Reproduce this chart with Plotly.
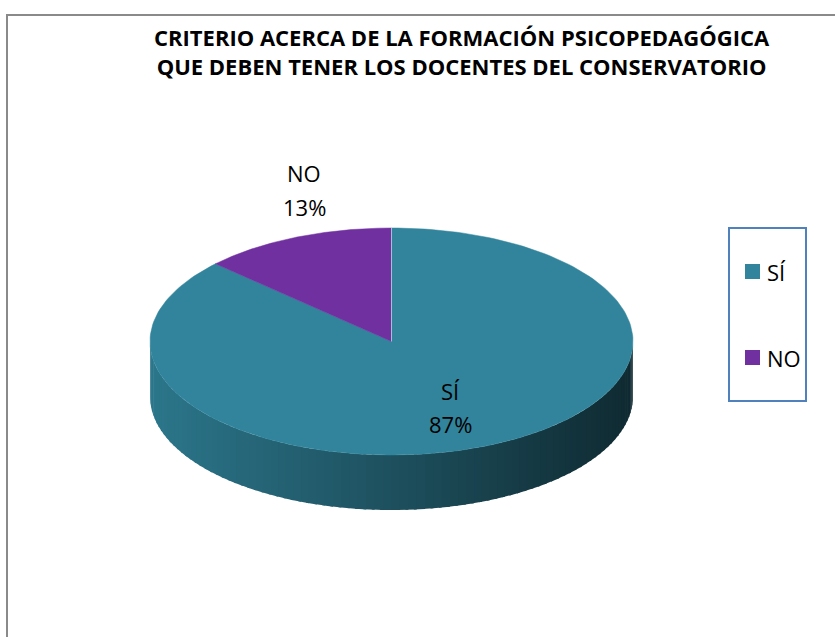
import numpy as np
import plotly.graph_objects as go

# ---- data ----
labels = ["SÍ", "NO"]
values = [87, 13]
colors = ["#31849B", "#7030A0"]
title_lines = ["CRITERIO ACERCA DE LA FORMACIÓN PSICOPEDAGÓGICA",
               "QUE DEBEN TENER LOS DOCENTES DEL CONSERVATORIO"]

# ---- style / geometry ----
W, H = 835, 637
CX, CY, RX, RY, DEPTH = 391.5, 341.5, 241.5, 113.5, 55
FONT = "Open Sans"
label_pos = {"SÍ": (450, 391, 424), "NO": (304, 173, 207)}


def hex2rgb(h):
    h = h.lstrip("#")
    return tuple(int(h[i:i + 2], 16) for i in (0, 2, 4))


def pt(t, dy=0.0):
    return CX + RX * np.sin(t), CY - RY * np.cos(t) + dy


total = float(sum(values))
fracs = [v / total for v in values]
bounds = []
acc = 0.0
for f in fracs:
    bounds.append((acc * 2 * np.pi, (acc + f) * 2 * np.pi))
    acc += f

fig = go.Figure()

# side wall (visible front half: t from pi/2 to 3pi/2)
N = 90
edges = np.linspace(np.pi / 2, 3 * np.pi / 2, N + 1)
for i in range(N):
    a0, a1 = edges[i], edges[i + 1]
    tm = 0.5 * (a0 + a1)
    base = colors[0]
    for (s0, s1), c in zip(bounds, colors):
        if s0 <= tm < s1:
            base = c
    xm, _ = pt(tm)
    u = (xm - (CX - RX)) / (2 * RX)
    fac = 0.9 - 0.58 * u
    r, g, b = hex2rgb(base)
    col = f"rgb({int(r * fac)},{int(g * fac)},{int(b * fac)})"
    ts = np.linspace(a0, a1 + (0.012 if i < N - 1 else 0), 6)
    xs_top, ys_top = pt(ts)
    xs_bot, ys_bot = pt(ts[::-1], DEPTH)
    xs = np.concatenate([xs_top, xs_bot, xs_top[:1]])
    ys = np.concatenate([ys_top, ys_bot, ys_top[:1]])
    fig.add_trace(go.Scatter(x=xs, y=ys, mode="lines", fill="toself",
                             fillcolor=col, line=dict(color=col, width=0),
                             hoverinfo="skip", showlegend=False))

# top face slices
for (s0, s1), c, lab in zip(bounds, colors, labels):
    ts = np.linspace(s0, s1, 200)
    xs, ys = pt(ts)
    xs = np.concatenate([[CX], xs, [CX]])
    ys = np.concatenate([[CY], ys, [CY]])
    fig.add_trace(go.Scatter(x=xs, y=ys, mode="lines", fill="toself",
                             fillcolor=c, line=dict(color=c, width=0.5),
                             hoverinfo="skip", showlegend=False, name=lab))

# light edge at slice start (top)
x0e, y0e = pt(bounds[0][0])
fig.add_trace(go.Scatter(x=[CX, x0e], y=[CY, y0e], mode="lines",
                         line=dict(color="rgba(170,205,215,0.9)", width=1),
                         hoverinfo="skip", showlegend=False))

annotations = []
# data labels
for lab, f in zip(labels, fracs):
    lx, ly1, ly2 = label_pos[lab]
    annotations.append(dict(x=lx, y=ly1, text=lab, showarrow=False,
                            font=dict(family=FONT, size=22, color="black")))
    annotations.append(dict(x=lx, y=ly2, text=f"{round(f * 100)}%", showarrow=False,
                            font=dict(family=FONT, size=22, color="black")))

# title
annotations.append(dict(x=462, y=51, text="<b>" + "<br>".join(title_lines) + "</b>",
                        showarrow=False, align="center",
                        font=dict(family=FONT, size=22, color="black")))

# legend (manual)
leg_y = [271.5, 357.5]
fig.add_trace(go.Scatter(x=[752.5] * len(labels), y=leg_y, mode="markers",
                         marker=dict(symbol="square", size=15, color=colors),
                         hoverinfo="skip", showlegend=False))
for lab, yy in zip(labels, leg_y):
    annotations.append(dict(x=765, y=yy, text=lab, xanchor="left", showarrow=False,
                            font=dict(family=FONT, size=22, color="black")))

shapes = [
    dict(type="rect", x0=7, y0=15, x1=850, y1=660, line=dict(color="#8a8a8a", width=2),
         layer="below"),
    dict(type="rect", x0=729, y0=228, x1=806, y1=401, line=dict(color="#4F81BD", width=2)),
]

fig.update_layout(
    width=W, height=H, margin=dict(l=0, r=0, t=0, b=0),
    paper_bgcolor="white", plot_bgcolor="white",
    xaxis=dict(range=[0, W], visible=False, fixedrange=True),
    yaxis=dict(range=[H, 0], visible=False, fixedrange=True),
    annotations=annotations, shapes=shapes, showlegend=False,
)

fig.write_html("out.html", config={"displayModeBar": False},
               post_script="document.body.style.margin='0';document.body.style.overflow='hidden';")
